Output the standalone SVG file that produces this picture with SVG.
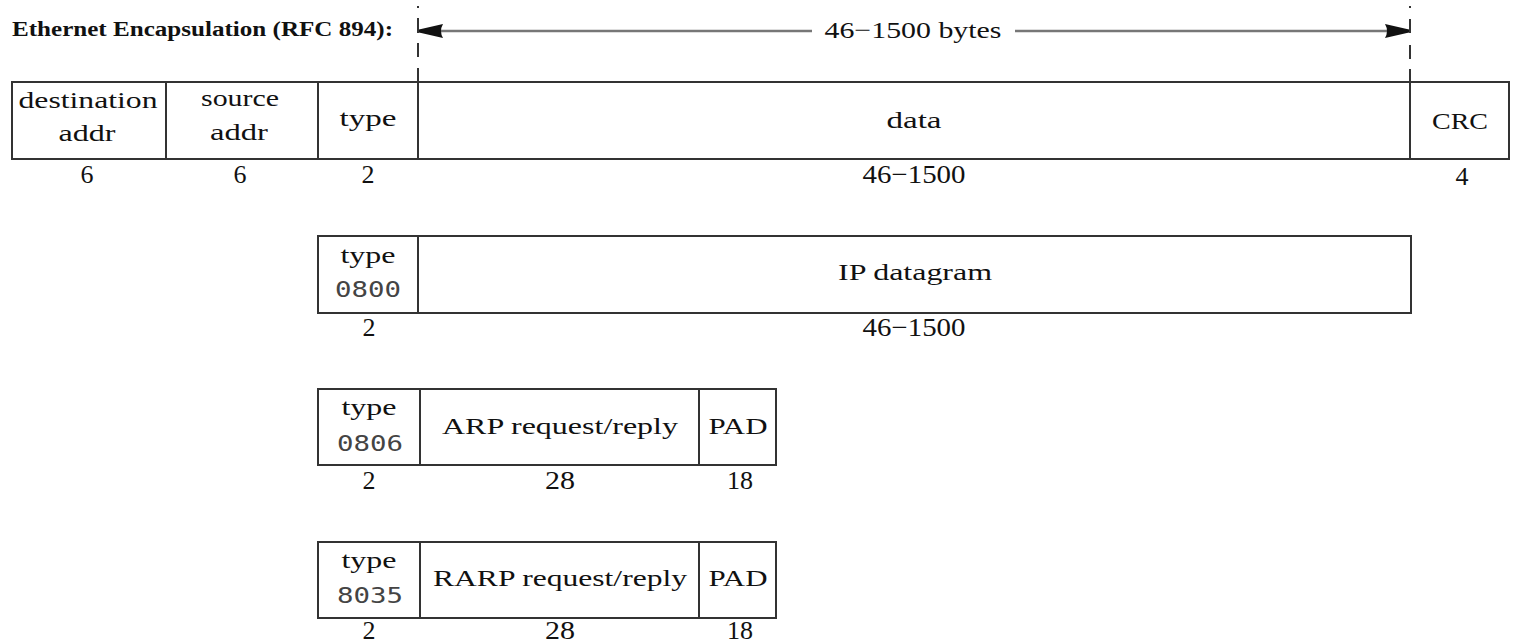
<svg xmlns="http://www.w3.org/2000/svg" width="1514" height="644" viewBox="0 0 1514 644">
  <style>
    .box { fill: #fff; stroke: #333; stroke-width: 2; }
    .div { stroke: #333; stroke-width: 2; }
    .t { font-family: "Liberation Serif", "Times New Roman", serif; font-size: 24px; fill: #111; text-anchor: middle; }
    .n { font-family: "Liberation Serif", "Times New Roman", serif; font-size: 26px; fill: #111; text-anchor: middle; }
    .m { font-family: "DejaVu Sans Mono", "Liberation Mono", monospace; font-size: 21px; fill: #444; text-anchor: middle; }
    .title { font-family: "Liberation Serif", "Times New Roman", serif; font-size: 20px; font-weight: bold; fill: #111; }
    .dash { stroke: #333; stroke-width: 2; }
    .dim { stroke: #777; stroke-width: 2.5; fill: none; }
  </style>
  <defs>
    <marker id="head" viewBox="0 0 24 14" refX="24" refY="7" markerWidth="24" markerHeight="14" markerUnits="userSpaceOnUse" orient="auto">
      <path d="M0,0 Q4,7 0,14 L24,8.5 L24,5.5 Z" fill="#111"/>
    </marker>
  </defs>
  <rect width="1514" height="644" fill="#fff"/>

  <!-- heading -->
  <g id="title">
    <text class="title" x="12" y="36" textLength="381" lengthAdjust="spacingAndGlyphs">Ethernet Encapsulation (RFC 894):</text>
  </g>

  <!-- span marker for the data field -->
  <g id="connectors">
    <path class="dash" d="M418,6 V8 M418,18 V33 M418,43 V57 M418,68 V82"/>
    <path class="dash" d="M1410,6 V8 M1410,19 V33 M1410,45 V59 M1410,69 V82"/>
    <line class="dim" x1="812" y1="31" x2="419" y2="31" marker-end="url(#head)"/>
    <line class="dim" x1="1015" y1="31" x2="1409" y2="31" marker-end="url(#head)"/>
    <text class="t" x="913" y="38" textLength="177" lengthAdjust="spacingAndGlyphs">46−1500 bytes</text>
  </g>

  <!-- Ethernet frame -->
  <g id="frame">
    <rect class="box" x="12" y="82" width="1497" height="77"/>
    <line class="div" x1="166" y1="82" x2="166" y2="159"/>
    <line class="div" x1="318" y1="82" x2="318" y2="159"/>
    <line class="div" x1="418" y1="82" x2="418" y2="159"/>
    <line class="div" x1="1410" y1="82" x2="1410" y2="159"/>
    <text class="t" x="88" y="108" textLength="139" lengthAdjust="spacingAndGlyphs">destination</text>
    <text class="t" x="87" y="141" textLength="57" lengthAdjust="spacingAndGlyphs">addr</text>
    <text class="t" x="240" y="106" textLength="78" lengthAdjust="spacingAndGlyphs">source</text>
    <text class="t" x="239" y="140" textLength="58" lengthAdjust="spacingAndGlyphs">addr</text>
    <text class="t" x="368" y="126" textLength="57" lengthAdjust="spacingAndGlyphs">type</text>
    <text class="t" x="914" y="128" textLength="55" lengthAdjust="spacingAndGlyphs">data</text>
    <text class="t" x="1460" y="129" textLength="56" lengthAdjust="spacingAndGlyphs">CRC</text>
    <text class="n" x="87" y="183">6</text>
    <text class="n" x="240" y="183">6</text>
    <text class="n" x="368" y="183">2</text>
    <text class="n" x="914" y="183" textLength="103" lengthAdjust="spacingAndGlyphs">46−1500</text>
    <text class="n" x="1462" y="185">4</text>
  </g>

  <!-- IP payload -->
  <g id="ip">
    <rect class="box" x="318" y="236" width="1093" height="77"/>
    <line class="div" x1="418" y1="236" x2="418" y2="313"/>
    <text class="t" x="368" y="263" textLength="55" lengthAdjust="spacingAndGlyphs">type</text>
    <text class="m" x="368" y="297" textLength="66" lengthAdjust="spacingAndGlyphs">0800</text>
    <text class="t" x="915" y="280" textLength="154" lengthAdjust="spacingAndGlyphs">IP datagram</text>
    <text class="n" x="369" y="336">2</text>
    <text class="n" x="914" y="336" textLength="103" lengthAdjust="spacingAndGlyphs">46−1500</text>
  </g>

  <!-- ARP payload -->
  <g id="arp">
    <rect class="box" x="318" y="389" width="458" height="76"/>
    <line class="div" x1="420" y1="389" x2="420" y2="465"/>
    <line class="div" x1="699" y1="389" x2="699" y2="465"/>
    <text class="t" x="369" y="415" textLength="55" lengthAdjust="spacingAndGlyphs">type</text>
    <text class="m" x="370" y="451" textLength="66" lengthAdjust="spacingAndGlyphs">0806</text>
    <text class="t" x="560" y="434" textLength="236" lengthAdjust="spacingAndGlyphs">ARP request/reply</text>
    <text class="t" x="738" y="434" textLength="59" lengthAdjust="spacingAndGlyphs">PAD</text>
    <text class="n" x="369" y="489">2</text>
    <text class="n" x="560" y="489" textLength="30" lengthAdjust="spacingAndGlyphs">28</text>
    <text class="n" x="740" y="489" textLength="26" lengthAdjust="spacingAndGlyphs">18</text>
  </g>

  <!-- RARP payload -->
  <g id="rarp">
    <rect class="box" x="318" y="542" width="458" height="76"/>
    <line class="div" x1="420" y1="542" x2="420" y2="618"/>
    <line class="div" x1="699" y1="542" x2="699" y2="618"/>
    <text class="t" x="369" y="568" textLength="55" lengthAdjust="spacingAndGlyphs">type</text>
    <text class="m" x="370" y="603" textLength="66" lengthAdjust="spacingAndGlyphs">8035</text>
    <text class="t" x="560" y="586" textLength="254" lengthAdjust="spacingAndGlyphs">RARP request/reply</text>
    <text class="t" x="738" y="586" textLength="59" lengthAdjust="spacingAndGlyphs">PAD</text>
    <text class="n" x="369" y="639">2</text>
    <text class="n" x="560" y="639" textLength="30" lengthAdjust="spacingAndGlyphs">28</text>
    <text class="n" x="740" y="639" textLength="26" lengthAdjust="spacingAndGlyphs">18</text>
  </g>
</svg>
